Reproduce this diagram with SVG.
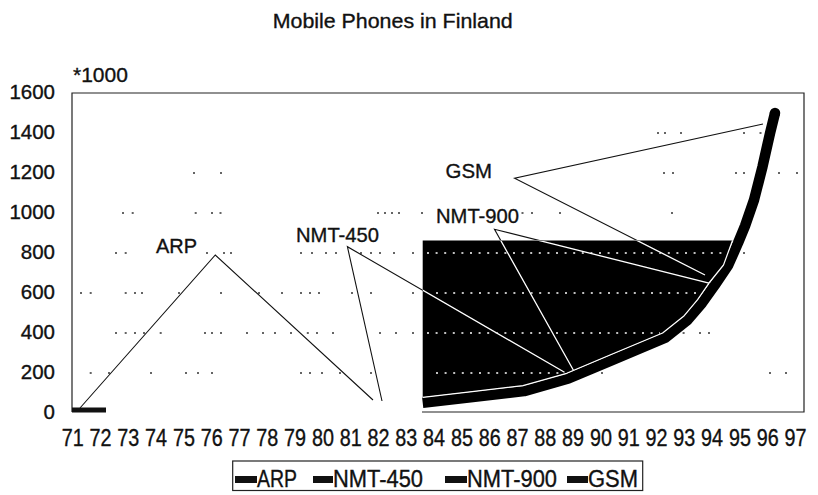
<svg xmlns="http://www.w3.org/2000/svg" width="818" height="495" viewBox="0 0 818 495">
  <style>
    text { font-family: "Liberation Sans", Arial, sans-serif; fill: #111; stroke: #111; stroke-width: 0.35px; }
    .ylab { font-size: 20.5px; text-anchor: end; }
    .xlab { font-size: 23px; text-anchor: middle; }
    .lbl { font-size: 21px; }
    .leg { font-size: 23px; }
    .frame { fill: none; stroke: #222; stroke-width: 1.2; }
    .dots { fill: none; stroke: #333; stroke-width: 1.3; }
    .wdots { fill: none; stroke: #fff; stroke-width: 1.3; stroke-dasharray: 2 6.6; }
    .lead { fill: none; stroke: #111; stroke-width: 1.1; }
    .leadw { fill: none; stroke: #fff; stroke-width: 1.3; }
  </style>
  <defs>
    <clipPath id="areaClip">
      <polygon points="422.7,240.5 732.5,240.5 723.5,265 709,283 697.6,299.7 683.6,316.3 662.6,333 610,355 566.7,373.3 523,385.7 470,391.8 422.7,397.3"/>
    </clipPath>
  </defs>

  <rect width="818" height="495" fill="#fff"/>

  <!-- title -->
  <text id="title" x="272.7" y="28" font-size="21" textLength="240" lengthAdjust="spacingAndGlyphs" stroke-width="0.2">Mobile Phones in Finland</text>

  <!-- y axis unit and tick labels -->
  <g id="y-axis">
    <text x="73" y="82" font-size="21">*1000</text>
    <text class="ylab" x="55" y="98.5">1600</text>
    <text class="ylab" x="55" y="138.5">1400</text>
    <text class="ylab" x="55" y="178.5">1200</text>
    <text class="ylab" x="55" y="218.5">1000</text>
    <text class="ylab" x="55" y="258.5">800</text>
    <text class="ylab" x="55" y="298.5">600</text>
    <text class="ylab" x="55" y="338.5">400</text>
    <text class="ylab" x="55" y="378.5">200</text>
    <text class="ylab" x="55" y="418.5">0</text>
  </g>

  <!-- x axis year labels -->
  <g id="x-axis">
    <text class="xlab" x="72.7" y="446" textLength="22" lengthAdjust="spacingAndGlyphs">71</text>
    <text class="xlab" x="100.5" y="446" textLength="22" lengthAdjust="spacingAndGlyphs">72</text>
    <text class="xlab" x="128.3" y="446" textLength="22" lengthAdjust="spacingAndGlyphs">73</text>
    <text class="xlab" x="156.1" y="446" textLength="22" lengthAdjust="spacingAndGlyphs">74</text>
    <text class="xlab" x="183.9" y="446" textLength="22" lengthAdjust="spacingAndGlyphs">75</text>
    <text class="xlab" x="211.7" y="446" textLength="22" lengthAdjust="spacingAndGlyphs">76</text>
    <text class="xlab" x="239.5" y="446" textLength="22" lengthAdjust="spacingAndGlyphs">77</text>
    <text class="xlab" x="267.3" y="446" textLength="22" lengthAdjust="spacingAndGlyphs">78</text>
    <text class="xlab" x="295.1" y="446" textLength="22" lengthAdjust="spacingAndGlyphs">79</text>
    <text class="xlab" x="322.9" y="446" textLength="22" lengthAdjust="spacingAndGlyphs">80</text>
    <text class="xlab" x="350.7" y="446" textLength="22" lengthAdjust="spacingAndGlyphs">81</text>
    <text class="xlab" x="378.5" y="446" textLength="22" lengthAdjust="spacingAndGlyphs">82</text>
    <text class="xlab" x="406.3" y="446" textLength="22" lengthAdjust="spacingAndGlyphs">83</text>
    <text class="xlab" x="434.1" y="446" textLength="22" lengthAdjust="spacingAndGlyphs">84</text>
    <text class="xlab" x="461.9" y="446" textLength="22" lengthAdjust="spacingAndGlyphs">85</text>
    <text class="xlab" x="489.7" y="446" textLength="22" lengthAdjust="spacingAndGlyphs">86</text>
    <text class="xlab" x="517.5" y="446" textLength="22" lengthAdjust="spacingAndGlyphs">87</text>
    <text class="xlab" x="545.3" y="446" textLength="22" lengthAdjust="spacingAndGlyphs">88</text>
    <text class="xlab" x="573.1" y="446" textLength="22" lengthAdjust="spacingAndGlyphs">89</text>
    <text class="xlab" x="600.9" y="446" textLength="22" lengthAdjust="spacingAndGlyphs">90</text>
    <text class="xlab" x="628.7" y="446" textLength="22" lengthAdjust="spacingAndGlyphs">91</text>
    <text class="xlab" x="656.5" y="446" textLength="22" lengthAdjust="spacingAndGlyphs">92</text>
    <text class="xlab" x="684.3" y="446" textLength="22" lengthAdjust="spacingAndGlyphs">93</text>
    <text class="xlab" x="712.1" y="446" textLength="22" lengthAdjust="spacingAndGlyphs">94</text>
    <text class="xlab" x="739.9" y="446" textLength="22" lengthAdjust="spacingAndGlyphs">95</text>
    <text class="xlab" x="767.7" y="446" textLength="22" lengthAdjust="spacingAndGlyphs">96</text>
    <text class="xlab" x="795.5" y="446" textLength="22" lengthAdjust="spacingAndGlyphs">97</text>
  </g>

  <!-- plot frame (bottom edge only under the filled area) -->
  <path id="frame" class="frame" d="M422,412 H804 V93 H72 V412"/>

  <!-- broken dotted gridlines on the white background -->
  <path id="grid" class="dots" d="
    M657,133h2 M664,133h2 M680,133h2 M743,133h2 M759.5,133h2
    M193,173h2 M220,173h2 M663,173h2 M672,173h2 M735,173h2 M743,173h2 M778,173h2 M796,173h2
    M122,213h2 M131.7,213h2 M194.7,213h2 M211,213h2 M219.5,213h2 M377,213h2 M384,213h2 M391,213h2 M398,213h2 M421,213h2 M521.5,213h2 M531,213h2 M559,213h2 M671,213h2
    M115,253h2 M124.7,253h2 M206,253h2 M223,253h2 M230,253h2 M300,253h2 M311,253h2 M325,253h2 M335,253h2 M360,253h2 M370,253h2 M379,253h2 M393,253h2 M412,253h2 M743,253h2
    M80,293h2 M89.7,293h2 M124.7,293h2 M134,293h2 M141,293h2 M178,293h2 M220,293h2 M258,293h2 M281,293h2 M300,293h2 M309,293h2 M318,293h2 M351,293h2 M370,293h2 M412,293h2
    M115,333h2 M124.7,333h2 M134,333h2 M143,333h2 M159.7,333h2 M204,333h2 M211,333h2 M220,333h2 M246,333h2 M262,333h2 M274,333h2 M290,333h2 M306.8,333h2 M316,333h2 M332,333h2 M379,333h2 M395,333h2 M412,333h2 M682.6,333h2 M699,333h2 M708,333h2
    M89.7,373h2 M108,373h2 M150,373h2 M185,373h2 M197,373h2 M211,373h2 M300,373h2 M309,373h2 M321,373h2 M339,373h2 M370,373h2 M580,373h2 M601,373h2 M769,373h2 M785,373h2"/>

  <!-- ARP series -->
  <rect id="series-arp" x="72" y="407.5" width="34" height="5" fill="#111"/>

  <!-- NMT area -->
  <polygon id="series-nmt" fill="#000" points="422.7,240.5 732.5,240.5 723.5,265 709,283 697.6,299.7 683.6,316.3 662.6,333 610,355 566.7,373.3 523,385.7 470,391.8 422.7,397.3"/>

  <!-- gridline dots showing through the filled area -->
  <g id="grid-inside" clip-path="url(#areaClip)">
    <path class="wdots" d="M427,253 H722 M436,293 H706 M427,333 H660 M436,373 H562"/>
  </g>

  <!-- callout lines -->
  <g id="connectors">
    <path class="lead" d="M80,408 L215.3,255 L373,400"/>
    <path class="lead" d="M382,401 L347.4,246.7 L564.5,372.3"/>
    <path class="lead" d="M574,371.3 L494.5,229.3 L710,283.3"/>
    <path class="lead" d="M763,124 L514.6,178.3 L705,275"/>
    <g clip-path="url(#areaClip)">
      <path class="leadw" d="M382,401 L347.4,246.7 L564.5,372.3"/>
      <path class="leadw" d="M574,371.3 L494.5,229.3 L710,283.3"/>
      <path class="leadw" d="M763,124 L514.6,178.3 L705,275"/>
    </g>
  </g>

  <!-- GSM growth curve -->
  <g id="series-gsm">
    <path d="M422.7,402.8 L470.6,397.3 L524.1,391.1 L568.5,378.5 L612.1,360.1 L665.4,337.7 L687.4,320.2 L702,303 L714.5,285.5 L728.3,265 L738,243 L745,226 L754,200 L762.5,166.7 L770,133.3 L775,113" fill="none" stroke="#000" stroke-width="10.5" stroke-linejoin="round"/>
    <circle cx="775" cy="113" r="5.25" fill="#000"/>
    <polyline points="422.7,397.3 470,391.8 523,385.7 566.7,373.3 610,355 662.6,333 683.6,316.3 697.6,299.7 709,283 723.5,265 732.5,240.5" fill="none" stroke="#fff" stroke-width="1.2" stroke-linejoin="round"/>
  </g>

  <!-- series labels -->
  <g id="label-arp"><text class="lbl" x="156" y="253" font-size="20.5" textLength="41" lengthAdjust="spacingAndGlyphs">ARP</text></g>
  <g id="label-nmt450"><text class="lbl" x="296" y="242" font-size="22" textLength="83" lengthAdjust="spacingAndGlyphs">NMT-450</text></g>
  <g id="label-nmt900"><text class="lbl" x="436" y="223" font-size="22" textLength="83" lengthAdjust="spacingAndGlyphs">NMT-900</text></g>
  <g id="label-gsm"><text class="lbl" x="445.5" y="178" font-size="20.5" textLength="46.5" lengthAdjust="spacingAndGlyphs">GSM</text></g>

  <!-- legend -->
  <g id="legend">
    <rect x="232.7" y="461" width="410" height="29.5" fill="#fff" stroke="#222" stroke-width="1.2"/>
    <rect x="235" y="476" width="22" height="7" fill="#111"/>
    <text class="leg" x="257" y="487" textLength="40" lengthAdjust="spacingAndGlyphs">ARP</text>
    <rect x="313" y="476" width="20" height="7" fill="#111"/>
    <text class="leg" x="333" y="487" textLength="90" lengthAdjust="spacingAndGlyphs">NMT-450</text>
    <rect x="445" y="476" width="22" height="7" fill="#111"/>
    <text class="leg" x="467" y="487" textLength="90" lengthAdjust="spacingAndGlyphs">NMT-900</text>
    <rect x="567" y="476" width="21" height="7" fill="#111"/>
    <text class="leg" x="588" y="487" textLength="50" lengthAdjust="spacingAndGlyphs">GSM</text>
  </g>
</svg>
